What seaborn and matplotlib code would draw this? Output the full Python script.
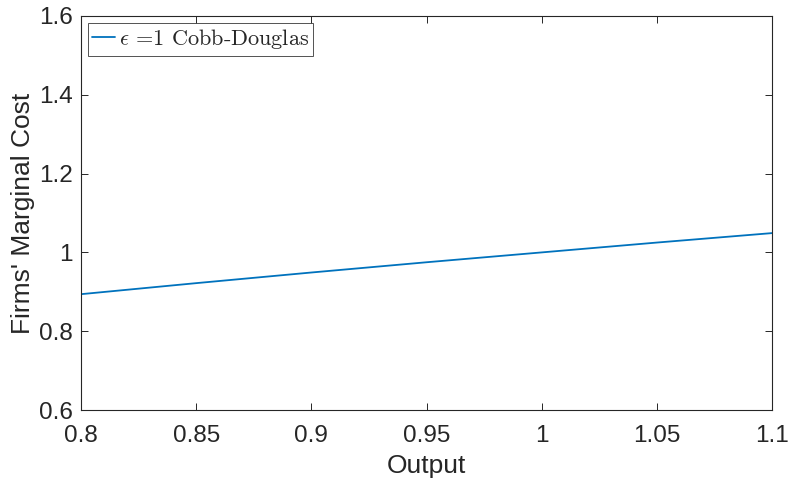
import matplotlib
matplotlib.use("Agg")
import matplotlib.pyplot as plt
import seaborn as sns
import pandas as pd

# Firms' marginal cost along the output range
output = [0.80, 0.85, 0.90, 0.95, 1.00, 1.05, 1.10]
marginal_cost = [0.894, 0.922, 0.949, 0.975, 1.000, 1.025, 1.049]
x_ticks = [0.8, 0.85, 0.9, 0.95, 1, 1.05, 1.1]
x_tick_labels = ["0.8", "0.85", "0.9", "0.95", "1", "1.05", "1.1"]
y_ticks = [0.6, 0.8, 1.0, 1.2, 1.4, 1.6]
y_tick_labels = ["0.6", "0.8", "1", "1.2", "1.4", "1.6"]
series_label = r"$\epsilon$ =1 Cobb-Douglas"

sns.set_theme(style="white")
plt.rcParams["font.family"] = ["Liberation Sans", "DejaVu Sans"]
plt.rcParams["mathtext.fontset"] = "cm"

df = pd.DataFrame({"Output": output, "MC": marginal_cost, "series": series_label})

fig = plt.figure(figsize=(7.89, 4.83), dpi=100)
ax = fig.add_axes([0.1027, 0.1511, 0.8758, 0.8158])

sns.lineplot(data=df, x="Output", y="MC", hue="series", palette=["#0072BD"],
             linewidth=1.3, ax=ax)

ax.set_xlim(0.8, 1.1)
ax.set_ylim(0.6, 1.6)
ax.set_xticks(x_ticks)
ax.set_xticklabels(x_tick_labels)
ax.set_yticks(y_ticks)
ax.set_yticklabels(y_tick_labels)
ax.tick_params(direction="in", length=5, width=0.7, colors="#262626",
               labelsize=17.5, top=True, right=True, bottom=True, left=True)
ax.tick_params(axis="x", pad=11)
ax.tick_params(axis="y", pad=6)
for s in ax.spines.values():
    s.set_visible(True)
    s.set_color("#262626")
    s.set_linewidth(0.8)
ax.set_xlabel("Output", fontsize=19, color="#262626", labelpad=5)
ax.set_ylabel("Firms' Marginal Cost", fontsize=19, color="#262626", labelpad=3)

leg = ax.legend(loc="upper left", prop={"family": "cmr10", "size": 16},
                frameon=True, fancybox=False, borderpad=0.2, handlelength=1.05,
                handletextpad=0.15, borderaxespad=0.3)
leg.get_frame().set_edgecolor("#262626")
leg.get_frame().set_linewidth(0.7)

fig.savefig("out.png", dpi=100)
